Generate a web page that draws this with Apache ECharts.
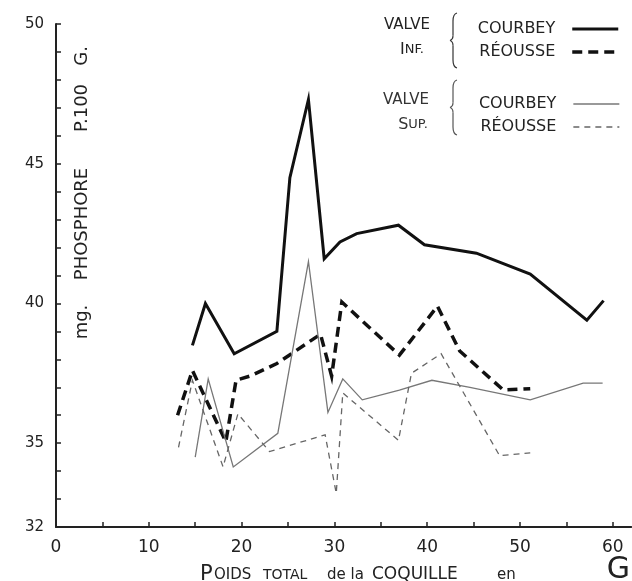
<!DOCTYPE html>
<html>
<head>
<meta charset="utf-8">
<script src="https://cdn.jsdelivr.net/npm/echarts@6/dist/echarts.min.js"></script>
<style>
  html, body { margin: 0; padding: 0; background: #fff; }
  #chart { width: 632px; height: 581px; }
</style>
</head>
<body>
<div id="chart"></div>
<script>
// Shell weight (g) against phosphorus (mg per 100 g), lower and upper valve.
const courbeyInfX = [14.7, 16.1, 19.2, 23.8, 25.2, 27.2, 28.9, 30.6, 32.4, 36.9, 39.7, 45.3, 51.1, 57.2, 59.0];
const courbeyInfY = [38.5, 40.0, 38.2, 39.0, 44.5, 47.3, 41.6, 42.2, 42.5, 42.8, 42.1, 41.8, 41.05, 39.4, 40.1];

const reousseInfX = [13.1, 14.7, 18.3, 19.4, 20.9, 23.8, 28.5, 29.7, 30.8, 37.0, 41.1, 43.5, 48.2, 51.1];
const reousseInfY = [36.0, 37.6, 35.05, 37.25, 37.4, 37.85, 38.9, 37.4, 40.05, 38.15, 39.9, 38.3, 36.9, 36.95];

const courbeySupX = [15.0, 16.4, 19.1, 23.9, 27.2, 29.3, 30.9, 33.0, 37.0, 40.5, 44.6, 51.1, 56.8, 58.9];
const courbeySupY = [34.5, 37.3, 34.15, 35.35, 41.5, 36.1, 37.3, 36.55, 36.9, 37.25, 37.0, 36.55, 37.15, 37.15];

const reousseSupX = [13.2, 14.7, 18.0, 19.6, 23.0, 29.0, 30.2, 30.9, 36.9, 38.3, 41.5, 47.8, 51.1];
const reousseSupY = [34.85, 37.25, 34.15, 36.05, 34.7, 35.3, 33.2, 36.8, 35.1, 37.5, 38.2, 34.55, 34.65];

const xTickLabels = [0, 10, 20, 30, 40, 50, 60];
const xTickMarks = [5, 10, 15, 20, 25, 30, 35, 40, 45, 50, 55, 60];
const yTickLabels = [32, 35, 40, 45, 50];
const yTickMarks = [33, 34, 35, 36, 37, 38, 39, 40, 41, 42, 43, 44, 45, 46, 47, 48, 49, 50];

const seriesNames = ['Valve inf. Courbey', 'Valve inf. Réousse', 'Valve sup. Courbey', 'Valve sup. Réousse'];
const legendText = {
  'Valve inf. Courbey': 'COURBEY',
  'Valve inf. Réousse': 'RÉOUSSE',
  'Valve sup. Courbey': 'COURBEY',
  'Valve sup. Réousse': 'RÉOUSSE'
};

const FONT = '"DejaVu Sans", sans-serif';
const INK = '#222';

function pairs(xs, ys) {
  return xs.map((x, i) => [x, ys[i]]);
}

function lineSeries(name, xs, ys, color, width, type) {
  return {
    name: name,
    type: 'line',
    data: pairs(xs, ys),
    symbol: 'none',
    smooth: false,
    lineStyle: { color: color, width: width, type: type, cap: 'butt', join: 'miter' },
    itemStyle: { color: color },
    emphasis: { disabled: true }
  };
}

// A thin curly brace made of quadratic curves and straight strokes.
function brace(top, bottom, x, color) {
  const mid = (top + bottom) / 2;
  const style = { fill: 'none', stroke: color, lineWidth: 1.2 };
  const q = (x1, y1, cx, cy, x2, y2) => ({ type: 'bezierCurve', shape: { x1: x1, y1: y1, cpx1: cx, cpy1: cy, x2: x2, y2: y2 }, style: style });
  const l = (x1, y1, x2, y2) => ({ type: 'line', shape: { x1: x1, y1: y1, x2: x2, y2: y2 }, style: style });
  return [
    q(x + 4, top, x, top + 1, x, top + 8),
    l(x, top + 8, x, mid - 5),
    q(x, mid - 5, x, mid - 1, x - 3, mid),
    q(x - 3, mid, x, mid + 1, x, mid + 5),
    l(x, mid + 5, x, bottom - 8),
    q(x, bottom - 8, x, bottom - 1, x + 4, bottom)
  ];
}

const legendBase = {
  orient: 'vertical',
  align: 'right',
  right: 7,
  itemWidth: 46,
  itemHeight: 14,
  itemGap: 7,
  selectedMode: false,
  lineStyle: { width: 'inherit' },
  // only the line sample is shown, the marker is hidden
  itemStyle: { opacity: 0, borderWidth: 0 },
  formatter: function (name) { return '{t|' + legendText[name] + '}'; },
  textStyle: {
    fontFamily: FONT,
    color: INK,
    rich: {
      t: { fontFamily: FONT, fontSize: 16, lineHeight: 18, color: INK, padding: [0, 12, 0, 0] }
    }
  }
};

const chart = echarts.init(document.getElementById('chart'), null, { renderer: 'canvas' });

chart.setOption({
  animation: false,
  backgroundColor: '#fff',
  grid: { left: 56, top: 24, width: 575.4, height: 503, containLabel: false },
  xAxis: {
    type: 'value',
    min: 0,
    max: 62,
    interval: 10,
    splitLine: { show: false },
    axisLine: { show: true, onZero: false, lineStyle: { color: INK, width: 2 } },
    axisTick: { show: true, inside: true, length: 5, customValues: xTickMarks, lineStyle: { color: INK, width: 1.5 } },
    axisLabel: {
      customValues: xTickLabels,
      margin: 12,
      fontFamily: FONT,
      fontSize: 17,
      color: INK
    }
  },
  yAxis: {
    type: 'value',
    min: 32,
    max: 50,
    splitLine: { show: false },
    axisLine: { show: true, onZero: false, lineStyle: { color: INK, width: 2 } },
    axisTick: { show: true, inside: true, length: 5, customValues: yTickMarks, lineStyle: { color: INK, width: 1.5 } },
    axisLabel: {
      customValues: yTickLabels,
      margin: 12,
      fontFamily: FONT,
      fontSize: 15,
      color: INK
    }
  },
  legend: [
    Object.assign({}, legendBase, { top: 16, data: [seriesNames[0], seriesNames[1]] }),
    Object.assign({}, legendBase, { top: 91, data: [seriesNames[2], seriesNames[3]] })
  ],
  series: [
    lineSeries(seriesNames[0], courbeyInfX, courbeyInfY, '#111', 3, 'solid'),
    lineSeries(seriesNames[1], reousseInfX, reousseInfY, '#111', 3.5, [10, 6]),
    lineSeries(seriesNames[2], courbeySupX, courbeySupY, '#777', 1.3, 'solid'),
    lineSeries(seriesNames[3], reousseSupX, reousseSupY, '#666', 1.3, [6, 5])
  ],
  graphic: [
    // legend group headings
    { type: 'text', x: 407, y: 25, style: { text: 'VALVE', font: '15px ' + FONT, fill: INK, align: 'center', verticalAlign: 'middle' } },
    { type: 'text', x: 412, y: 50, style: {
        text: '{b|I}{s|NF.}', align: 'center', verticalAlign: 'middle',
        rich: { b: { font: '16px ' + FONT, fill: INK }, s: { font: '13px ' + FONT, fill: INK } } } },
    { type: 'text', x: 406, y: 100, style: { text: 'VALVE', font: '15px ' + FONT, fill: '#333', align: 'center', verticalAlign: 'middle' } },
    { type: 'text', x: 413, y: 125, style: {
        text: '{b|S}{s|UP.}', align: 'center', verticalAlign: 'middle',
        rich: { b: { font: '16px ' + FONT, fill: '#333' }, s: { font: '13px ' + FONT, fill: '#333' } } } }
  ].concat(brace(13, 68, 453, '#333'), brace(80, 135, 453, '#555'), [
    // vertical axis title
    { type: 'text', x: 82, y: 193, rotation: Math.PI / 2, style: {
        text: '{a|mg.}{b|PHOSPHORE}{c|P.100}{d|G.}',
        align: 'center', verticalAlign: 'middle',
        rich: {
          a: { font: '18px ' + FONT, fill: INK, width: 36 },
          b: { font: '18px ' + FONT, fill: INK, width: 160, align: 'center' },
          c: { font: '18px ' + FONT, fill: INK, width: 72, align: 'center' },
          d: { font: '18px ' + FONT, fill: INK, width: 26, align: 'right' }
        } } },
    // horizontal axis title
    { type: 'text', x: 200, y: 575, style: {
        text: '{p|P}{o|OIDS}{t|TOTAL}{d|de la}{c|COQUILLE}{e|en}',
        align: 'left', verticalAlign: 'middle',
        rich: {
          p: { font: '21px ' + FONT, fill: INK, width: 14 },
          o: { font: '15px ' + FONT, fill: INK, width: 49 },
          t: { font: '14px ' + FONT, fill: INK, width: 64 },
          d: { font: '15px ' + FONT, fill: INK, width: 45 },
          c: { font: '17px ' + FONT, fill: INK, width: 125 },
          e: { font: '15px ' + FONT, fill: INK, width: 22 }
        } } },
    { type: 'text', x: 630, y: 570, style: { text: 'G', font: '30px ' + FONT, fill: INK, align: 'right', verticalAlign: 'middle' } }
  ])
});
</script>
</body>
</html>
